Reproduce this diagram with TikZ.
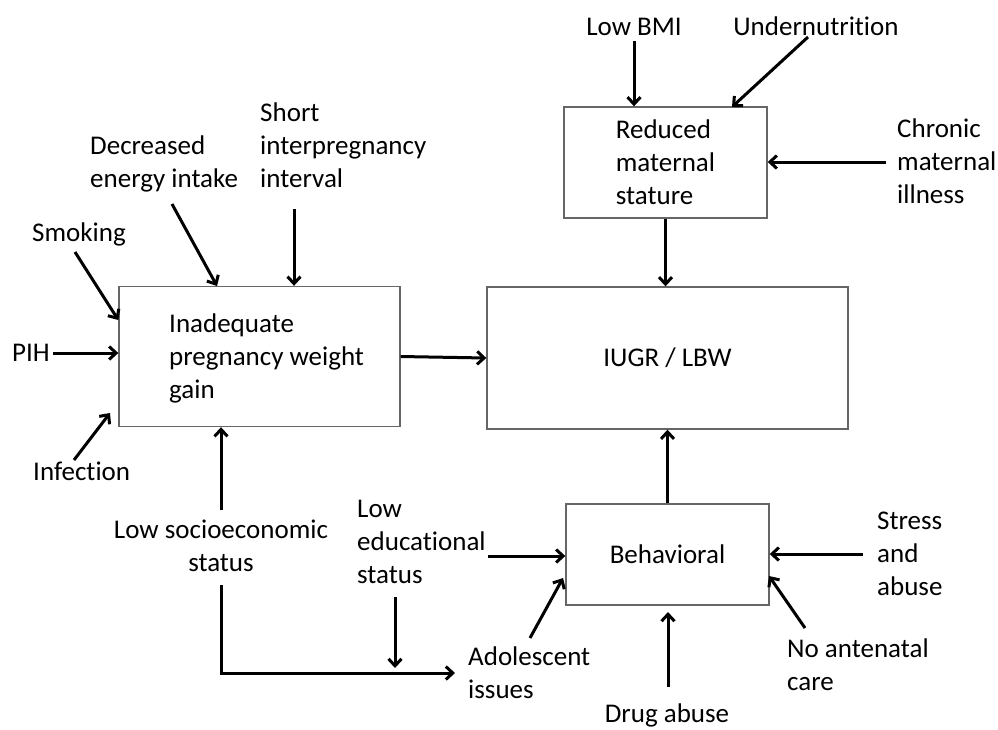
\documentclass[tikz,border=0pt]{standalone}
\usepackage{fontspec}
\setmainfont[Ligatures={NoCommon}]{Carlito}
\usetikzlibrary{arrows.meta}
\begin{document}
\begin{tikzpicture}[x=1pt,y=-1pt,
  boxnode/.style={draw=black!60,line width=1.4pt,rectangle,inner sep=0pt,align=center,fill=white},
  lbl/.style={inner sep=0pt,font=\fontsize{27}{33}\selectfont},
  arr/.style={line width=3pt,-{Straight Barb[length=7pt,width=13pt]}},
  plain/.style={line width=3pt}]
\useasboundingbox (0,0) rectangle (998,729);
% boxes
\node[boxnode,minimum width=281pt,minimum height=140pt] (inad) at (259.5,356.5) {};
\node[lbl,align=left,anchor=base west] (inadtxt) at (169,398) {Inadequate\\pregnancy weight\\gain};
\node[boxnode,lbl,minimum width=361pt,minimum height=142pt] (iugr) at (667.5,358) {IUGR / LBW};
\node[boxnode,lbl,align=left,minimum width=203pt,minimum height=111pt] (red) at (665.5,162.5) {Reduced\\maternal\\stature};
\node[boxnode,lbl,minimum width=203pt,minimum height=101pt] (beh) at (667.5,554.5) {Behavioral};
% labels
\node[lbl,anchor=base] (bmi) at (634,35) {Low BMI};
\node[lbl,anchor=base] (under) at (816,35) {Undernutrition};
\node[lbl,align=left,anchor=base west] (chron) at (897,203) {Chronic\\maternal\\illness};
\node[lbl,align=left,anchor=base west] (decr) at (90,187) {Decreased\\energy intake};
\node[lbl,align=left,anchor=base west] (short) at (260,187) {Short\\interpregnancy\\interval};
\node[lbl,anchor=base] (smok) at (79,241) {Smoking};
\node[lbl,anchor=base west] (pih) at (12,361) {PIH};
\node[lbl,anchor=base west] (inf) at (33,480) {Infection};
\node[lbl,align=center,anchor=base] (ses) at (221,571) {Low socioeconomic\\status};
\node[lbl,align=left,anchor=base west] (edu) at (357,583) {Low\\educational\\status};
\node[lbl,align=left,anchor=base west] (adol) at (468,698) {Adolescent\\issues};
\node[lbl,anchor=base] (drug) at (667,722) {Drug abuse};
\node[lbl,align=left,anchor=base west] (stress) at (877,595) {Stress\\and\\abuse};
\node[lbl,align=left,anchor=base west] (anc) at (787,690) {No antenatal\\care};
% tails
\coordinate (tbmi) at (634,41);
\coordinate (tunder) at (808,37);
\coordinate (tchron) at (886,162);
\coordinate (tsmok) at (75,252);
\coordinate (tdecr) at (172,204);
\coordinate (tshort) at (294,209);
\coordinate (tpih) at (53,353);
\coordinate (tinf) at (74,460);
\coordinate (tses) at (221,510);
\coordinate (tses2) at (221,585);
\coordinate (corner) at (221,673);
\coordinate (hadol) at (455,673);
\coordinate (tedu) at (488,556);
\coordinate (tedu2) at (395,597);
\coordinate (hedu2) at (395,668);
\coordinate (tadol) at (530,638);
\coordinate (tdrug) at (668,687);
\coordinate (tstress) at (863,554);
\coordinate (tanc) at (805,628);
% arrows
\draw[arr] (tbmi) -- (tbmi |- red.north);
\draw[arr] (tunder) -- (732,107);
\draw[arr] (tchron) -- (tchron -| red.east);
\draw[arr] (red.south) -- (red.south |- iugr.north);
\draw[arr] (inad.east) -- (iugr.west);
\draw[arr] (beh.north) -- (iugr.south);
\draw[arr] (tsmok) -- (inad.west |- 0,320);
\draw[arr] (tdecr) -- (217,286);
\draw[arr] (tshort) -- (tshort |- inad.north);
\draw[arr] (tpih) -- (tpih -| inad.west);
\draw[arr] (tinf) -- (110,413);
\draw[arr] (tses) -- (tses |- inad.south);
\draw[arr] (tses2) -- (corner) -- (hadol);
\draw[arr] (tedu) -- (tedu -| beh.west);
\draw[arr] (tedu2) -- (hedu2);
\draw[arr] (tadol) -- (563,578);
\draw[arr] (tdrug) -- (tdrug |- 0,612);
\draw[arr] (tstress) -- (tstress -| beh.east);
\draw[arr] (tanc) -- (769,576);
\end{tikzpicture}
\end{document}
